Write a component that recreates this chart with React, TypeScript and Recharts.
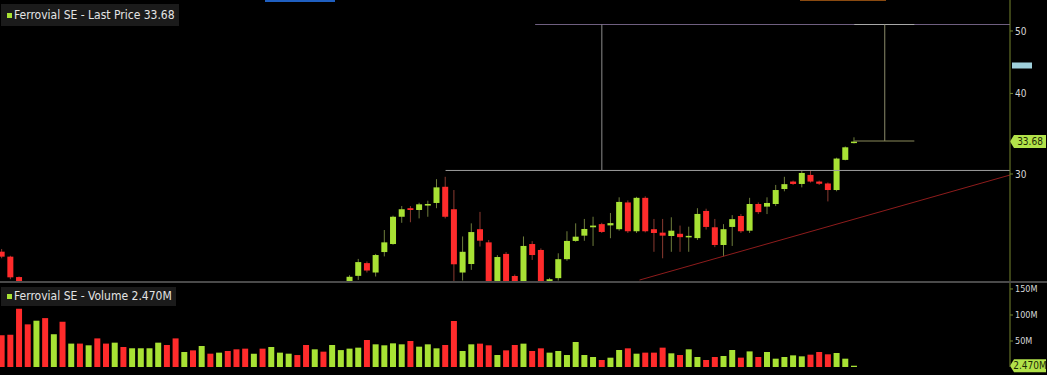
import { Bar, Cell, ComposedChart, ReferenceLine, XAxis, YAxis } from "recharts";

const opens = [
  22.73, 22.33, 20.76, 20.2, 19.6, 19.9, 19.4, 19.7, 19.2, 19.5,
  19.1, 19.3, 19.0, 18.8, 19.1, 18.9, 19.2, 19.4, 19.6, 19.8,
  19.5, 19.3, 19.6, 19.4, 19.7, 19.5, 19.8, 19.6, 19.4, 19.2,
  19.5, 19.3, 19.6, 19.8, 20.0, 19.8, 19.6, 19.9, 19.7, 19.95,
  20.45, 20.85, 21.82, 21.1, 22.7, 23.36, 25.75, 26.55, 26.38, 26.8,
  27.05, 28.66, 26.45, 21.1, 21.75, 24.63, 23.5, 20.4, 22.55, 20.84,
  20.4, 23.36, 22.87, 20.3, 20.68, 22.13, 23.62, 24.07, 24.8, 25.08,
  24.97, 24.63, 27.1, 24.45, 27.55, 24.63, 24.33, 24.04, 24.23, 23.95,
  23.86, 26.29, 24.8, 23.28, 24.83, 25.82, 24.5, 26.95, 26.7, 26.95,
  28.43, 29.2, 28.95, 29.9, 29.2, 29.0, 28.33, 31.55, 33.5,
];
const highs = [
  22.95, 22.4, 20.8, 20.3, 20.0, 20.0, 19.8, 19.8, 19.6, 19.6,
  19.4, 19.4, 19.1, 19.2, 19.2, 19.3, 19.5, 19.7, 19.9, 19.9,
  19.6, 19.7, 19.7, 19.8, 19.8, 19.9, 19.9, 19.7, 19.5, 19.6,
  19.6, 19.7, 19.9, 20.1, 20.1, 19.9, 20.0, 20.0, 20.05, 20.3,
  20.9, 22.15, 21.95, 22.55, 24.56, 25.85, 26.76, 26.75, 27.07, 27.27,
  29.45, 29.7, 28.33, 24.0, 25.15, 26.2, 23.7, 22.45, 22.7, 20.95,
  24.0, 23.6, 23.0, 20.7, 22.6, 24.45, 25.15, 25.55, 25.75, 25.2,
  26.1, 27.6, 27.3, 27.65, 27.7, 25.55, 25.55, 25.7, 24.95, 24.85,
  26.55, 26.5, 25.55, 25.08, 25.9, 26.0, 27.55, 27.1, 27.6, 28.85,
  29.7, 29.3, 30.35, 30.43, 29.3, 29.1, 31.8, 33.1, 34.2,
];
const lows = [
  22.2, 20.6, 20.0, 19.5, 19.5, 19.3, 19.3, 19.1, 19.1, 19.0,
  19.0, 18.9, 18.7, 18.7, 18.8, 18.8, 19.1, 19.3, 19.5, 19.4,
  19.2, 19.2, 19.3, 19.3, 19.4, 19.4, 19.5, 19.3, 19.1, 19.1,
  19.2, 19.2, 19.5, 19.7, 19.7, 19.5, 19.5, 19.6, 19.6, 19.9,
  20.3, 20.55, 21.1, 20.8, 22.35, 23.3, 25.2, 25.25, 25.6, 25.75,
  26.55, 25.6, 20.4, 20.5, 21.3, 23.15, 20.2, 20.2, 20.2, 20.1,
  20.2, 22.07, 20.2, 20.1, 20.5, 22.0, 23.55, 23.63, 23.2, 24.3,
  23.85, 24.5, 24.3, 24.3, 24.35, 22.72, 22.2, 22.72, 22.72, 22.72,
  23.7, 24.6, 23.1, 22.35, 23.2, 24.3, 24.3, 26.0, 26.0, 26.75,
  28.2, 28.85, 28.6, 29.1, 28.85, 27.2, 28.2, 31.5, 33.45,
];
const closes = [
  22.33, 20.74, 20.2, 19.6, 19.9, 19.4, 19.7, 19.2, 19.5, 19.1,
  19.3, 19.0, 18.8, 19.1, 18.9, 19.2, 19.4, 19.6, 19.8, 19.5,
  19.3, 19.6, 19.4, 19.7, 19.5, 19.8, 19.6, 19.4, 19.2, 19.5,
  19.3, 19.6, 19.8, 20.0, 19.8, 19.6, 19.9, 19.7, 19.95, 20.2,
  20.78, 21.9, 21.25, 22.46, 23.5, 25.75, 26.45, 26.38, 26.92, 26.95,
  28.6, 25.75, 21.73, 22.72, 24.38, 23.64, 20.4, 22.3, 20.45, 20.3,
  23.2, 22.46, 20.4, 20.6, 22.13, 23.62, 23.98, 24.65, 24.95, 24.39,
  25.17, 27.15, 24.45, 27.55, 24.45, 24.3, 24.07, 24.5, 23.94, 24.05,
  26.01, 24.83, 23.28, 24.63, 25.53, 24.45, 26.95, 26.18, 27.05, 28.33,
  28.93, 28.95, 30.11, 29.2, 28.97, 28.33, 31.7, 33.0, 33.68,
];
// volume in millions
const volumes = [
  60.9, 62, 112, 82, 89, 94, 63, 87, 45, 45,
  41.7, 55, 45, 46.8, 38.5, 36, 36, 36, 46.8, 42.3,
  55, 28.8, 32, 40.4, 25.6, 27.6, 30.8, 34, 35.3, 25.6,
  35.3, 38.5, 27.6, 25.6, 23, 42.3, 34, 29.5, 42.3, 32.5,
  35.3, 37.2, 51.9, 43.6, 41.7, 45.5, 43.6, 50, 39.1, 43.6,
  35.9, 42.3, 88.5, 30.8, 43.6, 44.9, 41.7, 23.1, 32, 42.3,
  44.9, 30.8, 35.9, 27.6, 30.8, 23.1, 48.1, 23.1, 19.2, 13.5,
  17.9, 32.7, 35.9, 25.6, 27.6, 27.6, 37.2, 26.3, 23.1, 34,
  19.2, 13.5, 19.2, 21.2, 32.7, 18, 30, 19.2, 28.8, 16,
  19.2, 22.4, 20.5, 23.7, 28.8, 24.4, 26.9, 16, 2.47,
];

const priceTicks = [30, 40, 50];
const volumeTicks = [50, 100, 150];
const lastPrice = 33.68;
const lastVolume = 2.47;
const markerLevel = 44.2;

// drawn study lines, in [bar index, price]
const resistance = 30.38;
const targetTop = 51.17;
const lastLevel = 33.75;
const trendStart = [73.3, 20.54];
const trendEnd = [115.9, 29.89];

const X_DOMAIN: [number, number] = [-0.23, 115.9];
const PRICE_DOMAIN: [number, number] = [20.47, 55.85];
const VOLUME_DOMAIN: [number, number] = [0, 161.5];

const GREEN = "#a8e234";
const RED = "#ff2b2b";
const WICK_UP = "#6e7d3c";
const WICK_DOWN = "#8a3a30";
const AXIS = "#76862f";
const FONT = '"Liberation Sans Narrow", "Arial Narrow", "DejaVu Sans Condensed", sans-serif';

const rows = closes.map((close, i) => ({
  idx: i,
  open: opens[i],
  high: highs[i],
  low: lows[i],
  close,
  range: [lows[i], highs[i]],
  volume: volumes[i],
  up: i === 0 ? close >= opens[i] : close >= closes[i - 1],
}));

function Candle(props: any) {
  const { x, y, width, height, payload } = props;
  if (x == null || y == null) return null;
  const { open, close, high, low } = payload;
  const top = Math.min(y, y + height);
  const h = Math.abs(height);
  const span = Math.log(high) - Math.log(low);
  const py = (v: number) => (span > 0 ? top + (h * (Math.log(high) - Math.log(v))) / span : top);
  const up = close >= open;
  const bodyTop = py(Math.max(open, close));
  const bodyBot = py(Math.min(open, close));
  const cx = x + width / 2;
  return (
    <g>
      <line x1={cx} x2={cx} y1={top} y2={top + h} stroke={up ? WICK_UP : WICK_DOWN} strokeWidth={1} />
      <rect x={x} y={bodyTop} width={width} height={Math.max(bodyBot - bodyTop, 1.5)} fill={up ? GREEN : RED} />
    </g>
  );
}

function ValueTag(props: any) {
  const { viewBox, text, fill, color } = props;
  if (!viewBox) return null;
  const left = viewBox.x + viewBox.width;
  const y = viewBox.y;
  return (
    <g>
      <path
        d={`M${left} ${y} L${left + 4} ${y - 6.5} L${left + 36} ${y - 6.5} L${left + 36} ${y + 6.5} L${left + 4} ${y + 6.5} Z`}
        fill={fill}
      />
      <text x={left + 20} y={y + 3.5} textAnchor="middle" fontSize={10} fill={color} fontFamily={FONT}>
        {text}
      </text>
    </g>
  );
}

function SmallMarker(props: any) {
  const { viewBox, fill } = props;
  if (!viewBox) return null;
  const left = viewBox.x + viewBox.width;
  return <rect x={left + 2} y={viewBox.y - 3} width={20} height={6} fill={fill} />;
}

function Header({ top, height, text }: { top: number; height: number; text: string }) {
  return (
    <div
      style={{
        position: "absolute",
        left: 1,
        top,
        height,
        lineHeight: `${height}px`,
        padding: "0 4px 0 6px",
        background: "#1b1b1b",
        color: "#e4e4e4",
        fontSize: 12,
        whiteSpace: "nowrap",
        display: "flex",
        alignItems: "center",
      }}
    >
      <span style={{ width: 5, height: 5, background: GREEN, marginRight: 2, display: "inline-block" }} />
      {text}
    </div>
  );
}

export default function App() {
  return (
    <div
      style={{
        position: "fixed",
        left: 0,
        top: 0,
        width: 1047,
        height: 375,
        background: "#000",
        overflow: "hidden",
        fontFamily: FONT,
      }}
    >
      <div style={{ position: "absolute", left: 265, top: 0, width: 70, height: 2, background: "#1f5fc0" }} />
      <div style={{ position: "absolute", left: 800, top: 0, width: 86, height: 1, background: "#8a4a10" }} />

      <div style={{ position: "absolute", left: 0, top: 0 }}>
        <ComposedChart width={1047} height={281} data={rows} margin={{ top: 0, right: 0, left: 0, bottom: 0 }}>
          <XAxis type="number" dataKey="idx" domain={X_DOMAIN} allowDataOverflow hide />
          <YAxis
            orientation="right"
            width={37}
            scale="log"
            domain={PRICE_DOMAIN}
            allowDataOverflow
            ticks={priceTicks}
            axisLine={{ stroke: AXIS }}
            tickLine={{ stroke: AXIS }}
            tickSize={3}
            tickMargin={2}
            tick={{ fill: "#d8d8d8", fontSize: 10 }}
          />
          <ReferenceLine segment={[{ x: 61.3, y: targetTop }, { x: X_DOMAIN[1], y: targetTop }]} stroke="#6f5f80" />
          <ReferenceLine segment={[{ x: 98, y: targetTop }, { x: 104.9, y: targetTop }]} stroke="#a8a8a8" />
          <ReferenceLine segment={[{ x: 51, y: resistance }, { x: X_DOMAIN[1], y: resistance }]} stroke="#9c9c9c" />
          <ReferenceLine segment={[{ x: 68.97, y: resistance }, { x: 68.97, y: targetTop }]} stroke="#8c8c8c" />
          <ReferenceLine segment={[{ x: 101.5, y: lastLevel }, { x: 101.5, y: targetTop }]} stroke="#8a8a6a" />
          <ReferenceLine segment={[{ x: 98, y: lastLevel }, { x: 104.9, y: lastLevel }]} stroke="#8a8a5a" />
          <ReferenceLine
            segment={[{ x: trendStart[0], y: trendStart[1] }, { x: trendEnd[0], y: trendEnd[1] }]}
            stroke="#8e1c1c"
          />
          <Bar dataKey="range" barSize={6} shape={<Candle />} isAnimationActive={false} />
          <ReferenceLine y={markerLevel} stroke="none" label={<SmallMarker fill="#9fd0dc" />} />
          <ReferenceLine y={lastPrice} stroke="none" label={<ValueTag text="33.68" fill="#b2e24a" color="#1c2a05" />} />
        </ComposedChart>
      </div>

      <div style={{ position: "absolute", left: 0, top: 281, width: 1047, height: 2, background: "#4a4a4a" }} />

      <div style={{ position: "absolute", left: 0, top: 283 }}>
        <ComposedChart width={1047} height={92} data={rows} margin={{ top: 0, right: 0, left: 0, bottom: 8 }}>
          <XAxis type="number" dataKey="idx" domain={X_DOMAIN} allowDataOverflow hide />
          <YAxis
            orientation="right"
            width={37}
            domain={VOLUME_DOMAIN}
            allowDataOverflow
            ticks={volumeTicks}
            tickFormatter={(v) => `${v}M`}
            axisLine={{ stroke: AXIS }}
            tickLine={{ stroke: AXIS }}
            tickSize={3}
            tickMargin={2}
            tick={{ fill: "#d8d8d8", fontSize: 9 }}
          />
          <Bar dataKey="volume" barSize={6} isAnimationActive={false}>
            {rows.map((r) => (
              <Cell key={r.idx} fill={r.up ? GREEN : RED} />
            ))}
          </Bar>
          <ReferenceLine y={lastVolume} stroke="none" label={<ValueTag text="2.470M" fill="#b2e24a" color="#1c2a05" />} />
        </ComposedChart>
      </div>

      <Header top={4} height={22} text="Ferrovial SE - Last Price 33.68" />
      <Header top={287} height={19} text="Ferrovial SE - Volume 2.470M" />
    </div>
  );
}
